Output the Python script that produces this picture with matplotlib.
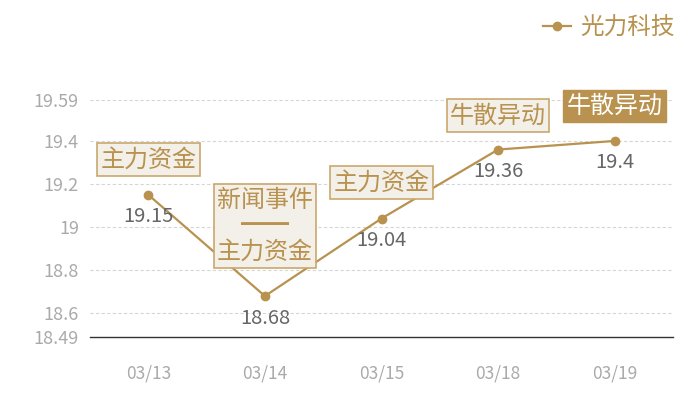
import matplotlib.pyplot as plt

plt.rcParams['font.family'] = ['Noto Sans CJK SC', 'DejaVu Sans']

# DATA
dates = ['03/13', '03/14', '03/15', '03/18', '03/19']
prices = [19.15, 18.68, 19.04, 19.36, 19.4]
events = ['主力资金', '新闻事件\n━━\n主力资金', '主力资金', '牛散异动', '牛散异动']
event_offsets = [35, 70, 36, 34, 35]   # pixels above the point
highlight = [False, False, False, False, True]
yticks = [18.49, 18.6, 18.8, 19.0, 19.2, 19.4, 19.59]
ytick_labels = ['18.49', '18.6', '18.8', '19', '19.2', '19.4', '19.59']

GOLD = '#b8924e'
BOX_FILL = '#f3efe9'
BOX_EDGE = '#c9a86c'

fig = plt.figure(figsize=(7, 4), dpi=100)
ax = fig.add_axes([90 / 700, 63 / 400, 583 / 700, 237 / 400])

x = list(range(len(dates)))
ax.plot(x, prices, color=GOLD, lw=1.6, marker='o', ms=6, label='光力科技', zorder=3)

ax.set_xlim(-0.5, len(dates) - 0.5)
ax.set_ylim(18.49, 19.59)
ax.set_xticks(x)
ax.set_xticklabels(dates)
ax.set_yticks(yticks)
ax.set_yticklabels(ytick_labels)

ax.tick_params(axis='x', length=0, pad=20, labelsize=12.5, labelcolor='#aaaaaa')
ax.tick_params(axis='y', length=0, pad=8, labelsize=13, labelcolor='#aaaaaa')

for t in yticks[1:]:
    ax.axhline(t, color='#d6d6d6', lw=0.8, ls=(0, (3, 2)), zorder=1)

for s in ['top', 'right', 'left']:
    ax.spines[s].set_visible(False)
ax.spines['bottom'].set_color('#333333')
ax.spines['bottom'].set_linewidth(1)

# value labels
for xi, p in zip(x, prices):
    ax.annotate(f'{p:g}', (xi, p), xytext=(0, -22), textcoords='offset pixels',
                ha='center', va='center', fontsize=14.5, color='#666666', zorder=4)

# event boxes
for xi, p, ev, off, hl in zip(x, prices, events, event_offsets, highlight):
    if hl:
        bbox = dict(boxstyle='square,pad=0.14', fc=GOLD, ec=GOLD, lw=1)
        tc = 'white'
    else:
        bbox = dict(boxstyle='square,pad=0.14', fc=BOX_FILL, ec=BOX_EDGE, lw=1.2)
        tc = GOLD
    ax.annotate(ev, (xi, p), xytext=(0, off), textcoords='offset pixels',
                ha='center', va='center', fontsize=17.3, color=tc, bbox=bbox,
                linespacing=1.0, zorder=5, annotation_clip=False)

ax.legend(loc='upper right', bbox_to_anchor=(0.988, 1.0), bbox_transform=fig.transFigure,
          frameon=False, fontsize=17, labelcolor=GOLD, handlelength=1.2,
          handletextpad=0.4, borderaxespad=0.3)

fig.savefig('out.png', dpi=100)
